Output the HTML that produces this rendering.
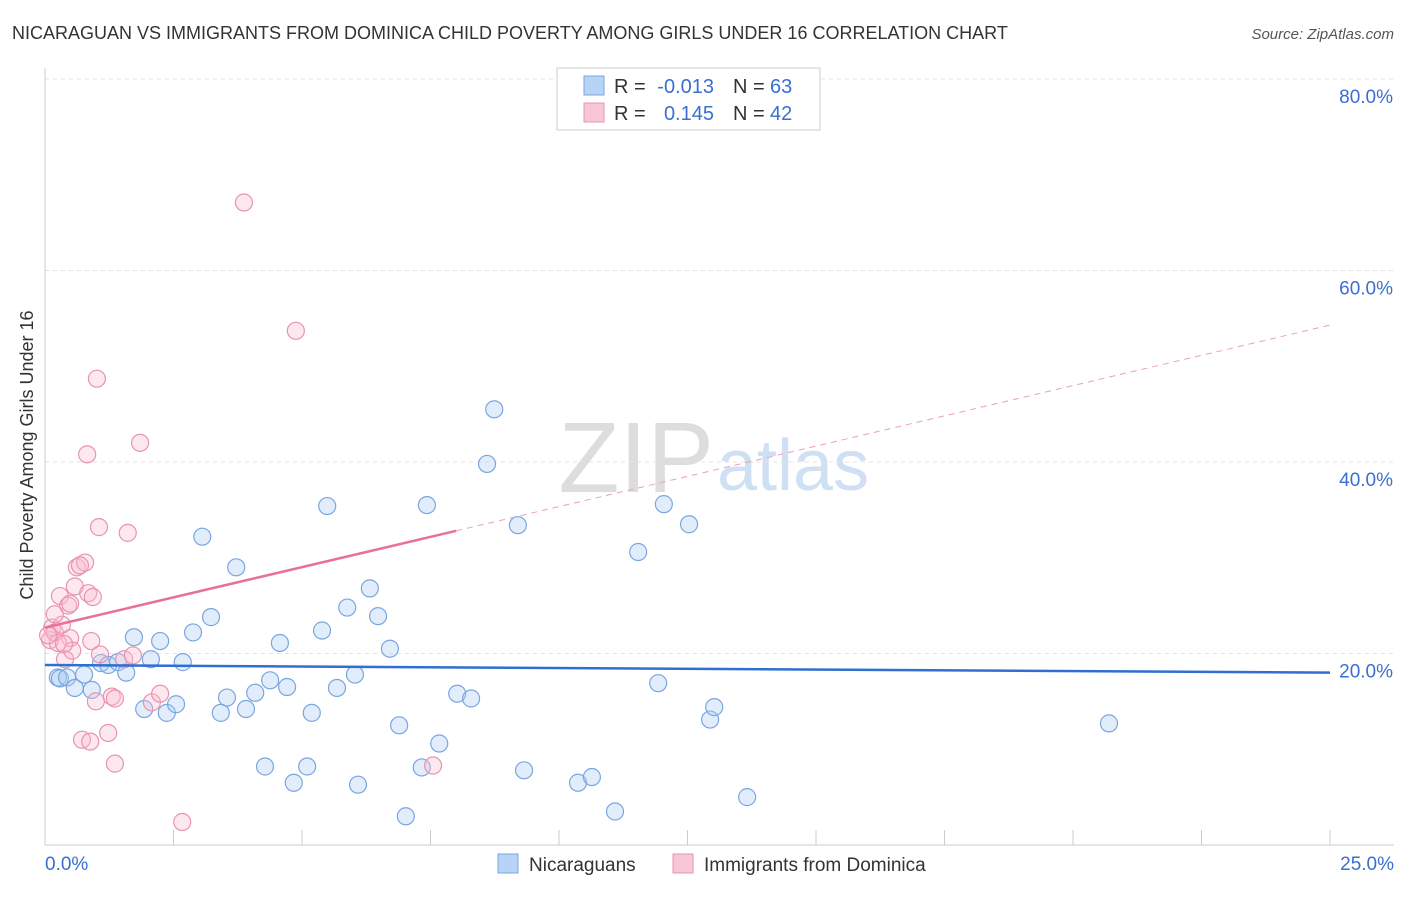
<!DOCTYPE html>
<html><head><meta charset="utf-8"><style>
body{margin:0;background:#fff;font-family:"Liberation Sans",sans-serif;}
svg text{font-family:"Liberation Sans",sans-serif;}
</style></head><body>
<svg width="1406" height="892">
<text x="12" y="39" font-size="18" fill="#333">NICARAGUAN VS IMMIGRANTS FROM DOMINICA CHILD POVERTY AMONG GIRLS UNDER 16 CORRELATION CHART</text>
<text x="1394" y="39" font-size="15" fill="#555" font-style="italic" text-anchor="end">Source: ZipAtlas.com</text>
<text x="714" y="492" font-size="100" fill="#ddd" text-anchor="end" font-family="Liberation Serif">ZIP</text>
<text x="717" y="490" font-size="72" fill="#cfe0f5">atlas</text>
<g id="grid"></g><g id="axes"></g><g id="marks"></g>
<text transform="translate(33,455) rotate(-90)" font-size="18" fill="#333" text-anchor="middle">Child Poverty Among Girls Under 16</text>
<g>
<rect x="557" y="68" width="263" height="62" fill="#fff" stroke="#ccc"/>
<rect x="584" y="76" width="20" height="19" fill="#b8d4f5" stroke="#7aa6e0"/>
<rect x="584" y="103" width="20" height="19" fill="#f9c6d6" stroke="#e993b0"/>
<text x="614" y="93" font-size="20" fill="#333">R =</text>
<text x="714" y="93" font-size="20" fill="#3a6fd0" text-anchor="end">-0.013</text>
<text x="733" y="93" font-size="20" fill="#333">N =</text>
<text x="770" y="93" font-size="20" fill="#3a6fd0">63</text>
<text x="614" y="120" font-size="20" fill="#333">R =</text>
<text x="714" y="120" font-size="20" fill="#3a6fd0" text-anchor="end">0.145</text>
<text x="733" y="120" font-size="20" fill="#333">N =</text>
<text x="770" y="120" font-size="20" fill="#3a6fd0">42</text>
</g>
<g>
<rect x="498" y="854" width="20" height="19" fill="#b8d4f5" stroke="#7aa6e0"/>
<text x="529" y="871" font-size="19" fill="#333">Nicaraguans</text>
<rect x="673" y="854" width="20" height="19" fill="#f9c6d6" stroke="#e993b0"/>
<text x="704" y="871" font-size="19" fill="#333">Immigrants from Dominica</text>
</g>
</svg>
<script>
const yTicks=[20,40,60,80];
const xTickLabels=["0.0%","25.0%"];
const blueX=[0.25,0.29,0.43,0.58,0.76,0.91,1.09,1.23,1.42,1.58,1.73,1.93,2.06,2.24,2.37,2.55,2.68,2.88,3.06,3.23,3.42,3.54,3.72,3.91,4.09,4.28,4.38,4.57,4.71,4.84,5.10,5.19,5.39,5.49,5.68,5.88,6.03,6.09,6.32,6.48,6.71,6.89,7.02,7.33,7.43,7.67,8.02,8.29,8.60,8.74,9.20,9.32,10.37,10.64,11.09,11.54,11.93,12.04,12.53,12.94,13.02,13.66,20.70];
const blueY=[17.5,17.4,17.5,16.4,17.8,16.2,19.0,18.8,19.1,18.0,21.7,14.2,19.4,21.3,13.8,14.7,19.1,22.2,32.2,23.8,13.8,15.4,29.0,14.2,15.9,8.2,17.2,21.1,16.5,6.5,8.2,13.8,22.4,35.4,16.4,24.8,17.8,6.3,26.8,23.9,20.5,12.5,3.0,8.1,35.5,10.6,15.8,15.3,39.8,45.5,33.4,7.8,6.5,7.1,3.5,30.6,16.9,35.6,33.5,13.1,14.4,5.0,12.7];
const pinkX=[0.10,0.14,0.19,0.29,0.33,0.39,0.45,0.49,0.53,0.58,0.62,0.72,0.78,0.82,0.84,0.88,0.90,0.93,0.99,1.01,1.05,1.23,1.30,1.36,1.36,1.54,1.61,1.71,1.85,2.08,2.24,2.67,3.87,4.88,7.55,0.19,0.25,0.06,0.37,0.68,0.49,1.07];
const pinkY=[21.4,22.7,22.2,26.0,23.0,19.4,25.0,21.6,20.3,27.0,29.0,11.0,29.5,40.8,26.3,10.8,21.3,25.9,15.0,48.7,33.2,11.7,15.5,8.5,15.3,19.4,32.6,19.8,42.0,14.9,15.8,2.4,67.1,53.7,8.3,24.1,21.1,21.9,21.0,29.2,25.2,19.9];
const blueTrend=[18.8,18.0], pinkTrend=[22.7,54.3], pinkSolidEnd=8.0;
const X=v=>45+v*51.4, Y=v=>845-v*9.575;
const ns="http://www.w3.org/2000/svg";
function mk(g,t,a){const e=document.createElementNS(ns,t);for(const k in a)e.setAttribute(k,a[k]);document.getElementById(g).appendChild(e);return e;}
yTicks.forEach(t=>{const l=mk('grid','line',{x1:45,x2:1394,y1:Y(t),y2:Y(t),stroke:'#e3e3e3','stroke-dasharray':'4,4'});


const tx=mk('axes','text',{x:1393,y:Y(t)+24,'font-size':19,fill:'#3a6fd0','text-anchor':'end'});tx.textContent=t.toFixed(1)+'%';

});
mk('axes','line',{x1:45,x2:45,y1:68,y2:845,stroke:'#ccc'});
mk('axes','line',{x1:45,x2:1394,y1:845,y2:845,stroke:'#ccc'});
for(let i=0;i<=10;i++){const l=mk('axes','line',{x1:X(i*2.5),x2:X(i*2.5),y1:830,y2:845,stroke:'#ccc'});

}
[[0,'start',45],[25,'end',1394]].forEach((d,i)=>{const t=mk('axes','text',{x:d[2],y:870,'font-size':19,fill:'#3a6fd0','text-anchor':d[1]});t.textContent=xTickLabels[i];

});
blueX.forEach((x,i)=>{const c=mk('marks','circle',{cx:X(x),cy:Y(blueY[i]),r:8.5,fill:'rgba(170,202,242,0.35)',stroke:'#7aa6e0','stroke-width':1.2});

});
pinkX.forEach((x,i)=>{const c=mk('marks','circle',{cx:X(x),cy:Y(pinkY[i]),r:8.5,fill:'rgba(248,190,208,0.35)',stroke:'#e993b0','stroke-width':1.2});

});
const pAt=x=>pinkTrend[0]+(pinkTrend[1]-pinkTrend[0])*x/25;
let l=mk('marks','line',{x1:X(0),y1:Y(blueTrend[0]),x2:X(25),y2:Y(blueTrend[1]),stroke:'#2f6fd0','stroke-width':2.5});


l=mk('marks','line',{x1:X(0),y1:Y(pAt(0)),x2:X(pinkSolidEnd),y2:Y(pAt(pinkSolidEnd)),stroke:'#e8709a','stroke-width':2.5});


l=mk('marks','line',{x1:X(pinkSolidEnd),y1:Y(pAt(pinkSolidEnd)),x2:X(25),y2:Y(pAt(25)),stroke:'#e8a0b8','stroke-width':1,'stroke-dasharray':'6,5'});


</script>
</body></html>
